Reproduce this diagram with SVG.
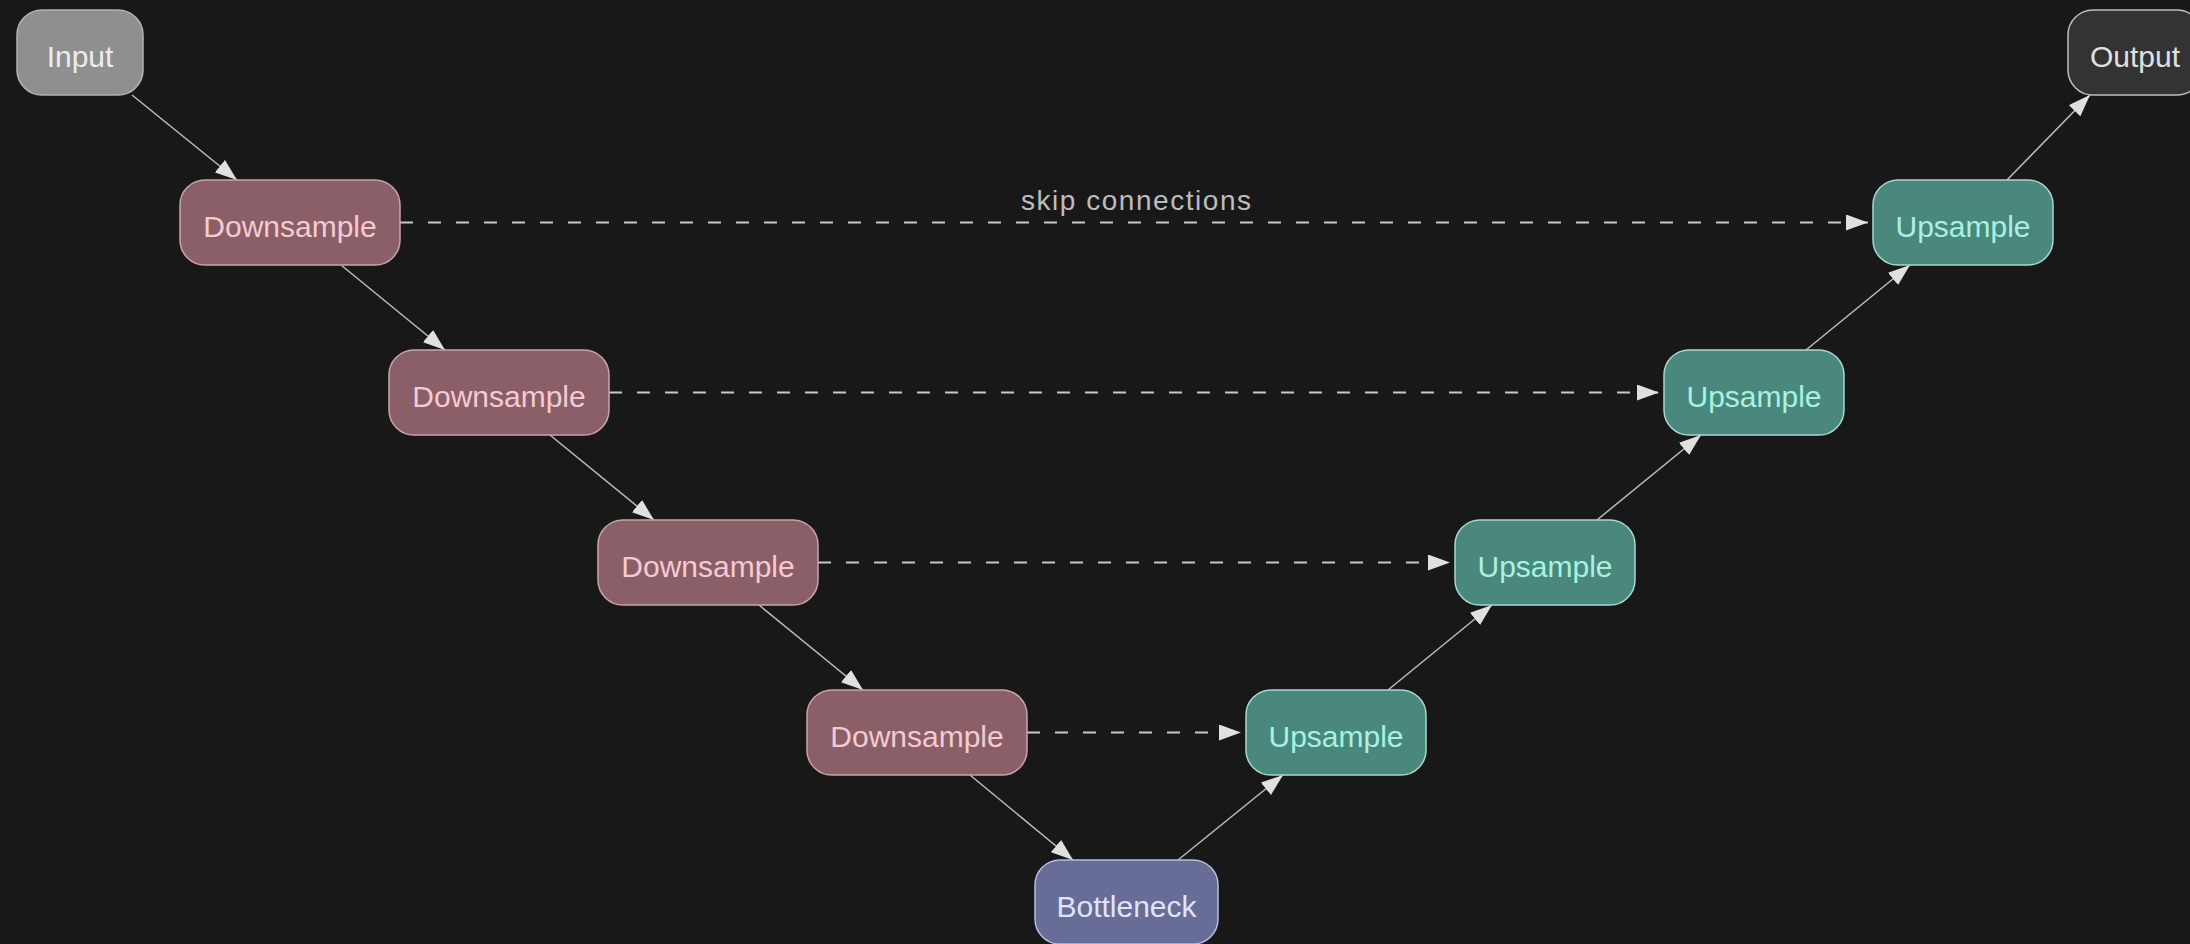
<svg xmlns="http://www.w3.org/2000/svg" width="2190" height="944" viewBox="0 0 2190 944">
<style>
.lbl{font-family:"Liberation Sans",Arial,sans-serif;font-size:30px;text-anchor:middle}
.down rect{fill:#8a5f68;stroke:#c9a4ab;stroke-width:1.5}
.down text{fill:#f6cad2}
.up rect{fill:#4a877d;stroke:#a8d8cf;stroke-width:1.5}
.up text{fill:#a8f2e0}
.edge{stroke:#bdbdbd;stroke-width:1.5;fill:none}
.skip{stroke:#c8c8c8;stroke-width:2;fill:none;stroke-dasharray:13 15}
</style>
<defs>
<marker id="arr" markerUnits="userSpaceOnUse" markerWidth="24" markerHeight="16" refX="22" refY="8" orient="auto">
<path d="M0,0 L22,8 L0,16 z" fill="#e0e0e0"/>
</marker>
</defs>
<rect x="0" y="0" width="2190" height="944" fill="#181818"/>
<g id="connectors">
<line class="edge" x1="132" y1="95" x2="237" y2="180" marker-end="url(#arr)"/>
<line class="edge" x1="341" y1="265" x2="445" y2="350" marker-end="url(#arr)"/>
<line class="edge" x1="550" y1="435" x2="654" y2="520" marker-end="url(#arr)"/>
<line class="edge" x1="759" y1="605" x2="863" y2="690" marker-end="url(#arr)"/>
<line class="edge" x1="970" y1="775" x2="1073" y2="860" marker-end="url(#arr)"/>
<line class="edge" x1="1178" y1="860" x2="1283" y2="775" marker-end="url(#arr)"/>
<line class="edge" x1="1388" y1="690" x2="1492" y2="605" marker-end="url(#arr)"/>
<line class="edge" x1="1597" y1="520" x2="1701" y2="435" marker-end="url(#arr)"/>
<line class="edge" x1="1806" y1="350" x2="1910" y2="265" marker-end="url(#arr)"/>
<line class="edge" x1="2007" y1="180" x2="2090" y2="95" marker-end="url(#arr)"/>
<line class="skip" x1="400" y1="222.5" x2="1868" y2="222.5" marker-end="url(#arr)"/>
<line class="skip" x1="609" y1="392.5" x2="1659" y2="392.5" marker-end="url(#arr)"/>
<line class="skip" x1="818" y1="562.5" x2="1450" y2="562.5" marker-end="url(#arr)"/>
<line class="skip" x1="1027" y1="732.5" x2="1241" y2="732.5" marker-end="url(#arr)"/>
<text class="lbl" x="1136" y="210" fill="#bdbdbd" textLength="230" style="font-size:28px">skip connections</text>
</g>
<g id="input"><rect x="17" y="10" width="126" height="85" rx="25" fill="#8f8f8f" stroke="#b4b4b4" stroke-width="1.5"/><text class="lbl" x="80" y="67" fill="#ececec">Input</text></g>
<g id="down1" class="down"><rect x="180" y="180" width="220" height="85" rx="25"/><text class="lbl" x="290" y="237">Downsample</text></g>
<g id="down2" class="down"><rect x="389" y="350" width="220" height="85" rx="25"/><text class="lbl" x="499" y="407">Downsample</text></g>
<g id="down3" class="down"><rect x="598" y="520" width="220" height="85" rx="25"/><text class="lbl" x="708" y="577">Downsample</text></g>
<g id="down4" class="down"><rect x="807" y="690" width="220" height="85" rx="25"/><text class="lbl" x="917" y="747">Downsample</text></g>
<g id="bottleneck"><rect x="1035" y="860" width="183" height="84" rx="25" fill="#676d96" stroke="#b8bde0" stroke-width="1.5"/><text class="lbl" x="1126.5" y="917" fill="#e0e3ff">Bottleneck</text></g>
<g id="up4" class="up"><rect x="1246" y="690" width="180" height="85" rx="25"/><text class="lbl" x="1336" y="747">Upsample</text></g>
<g id="up3" class="up"><rect x="1455" y="520" width="180" height="85" rx="25"/><text class="lbl" x="1545" y="577">Upsample</text></g>
<g id="up2" class="up"><rect x="1664" y="350" width="180" height="85" rx="25"/><text class="lbl" x="1754" y="407">Upsample</text></g>
<g id="up1" class="up"><rect x="1873" y="180" width="180" height="85" rx="25"/><text class="lbl" x="1963" y="237">Upsample</text></g>
<g id="output"><rect x="2068" y="10" width="134" height="85" rx="25" fill="#333333" stroke="#bdbdbd" stroke-width="1.5"/><text class="lbl" x="2135" y="67" fill="#e0e0e0">Output</text></g>
</svg>
